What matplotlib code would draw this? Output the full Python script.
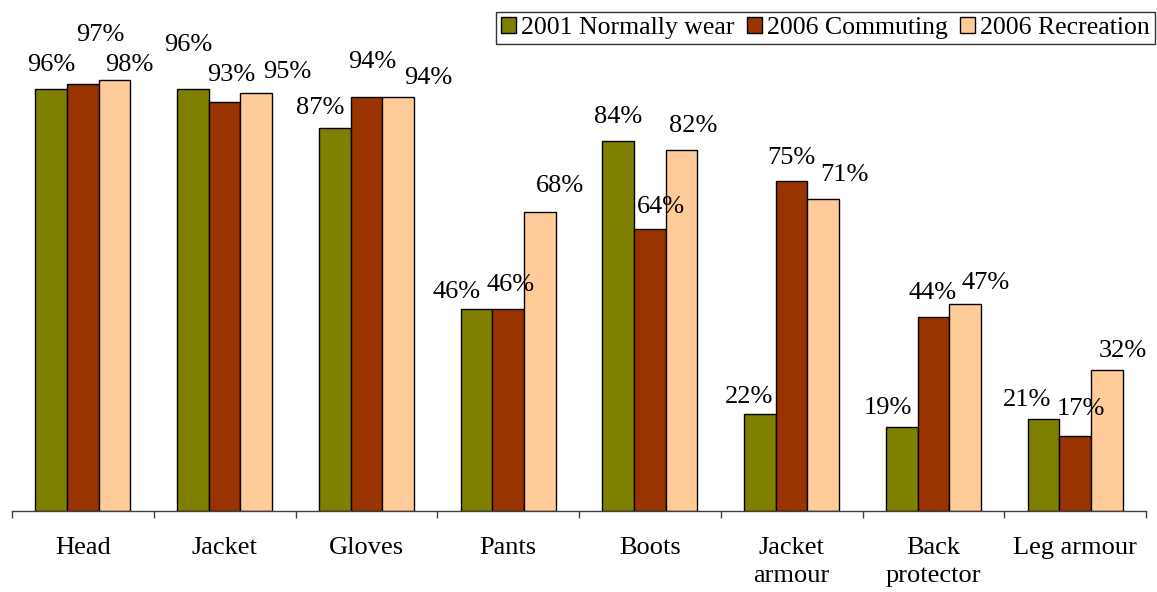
import numpy as np
import matplotlib
matplotlib.use("Agg")
from matplotlib import pyplot as plt

plt.rcParams['font.family'] = ['Liberation Serif', 'DejaVu Serif']
plt.rcParams['font.size'] = 19

parts = ['Head', 'Jacket', 'Gloves', 'Pants', 'Boots',
         'Jacket\narmour', 'Back\nprotector', 'Leg armour']
series = ['2001 Normally wear', '2006 Commuting', '2006 Recreation']
wear_2001 = [96, 96, 87, 46, 84, 22, 19, 21]
commute_2006 = [97, 93, 94, 46, 64, 75, 44, 17]
recreation_2006 = [98, 95, 94, 68, 82, 71, 47, 32]

colors = ['#808000', '#993300', '#FFCC99']

# label nudges (pixels) so the percentages don't collide
nudge = [
    [(0, 24), (-5, 44), (-15, 20), (-20, 17), (0, 24), (-11, 17), (-14, 19), (-16, 19)],
    [(17, 49), (7, 27), (6, 35), (2, 24), (11, 22), (0, 23), (-1, 24), (6, 27)],
    [(15, 15), (31, 21), (30, 19), (20, 26), (12, 24), (21, 24), (21, 21), (16, 19)],
]

fig = plt.figure(figsize=(11.57, 5.92), dpi=100)
ax = fig.add_axes([12 / 1157, 81 / 592, 1134 / 1157, 440 / 592])

x = np.arange(len(parts)) + 0.5
w = 0.223
data = [wear_2001, commute_2006, recreation_2006]
for k, vals in enumerate(data):
    xs = x + (k - 1) * w
    ax.bar(xs, vals, width=w, color=colors[k], edgecolor='black',
           linewidth=1.0, label=series[k])
    for i, v in enumerate(vals):
        dx, dy = nudge[k][i]
        ax.annotate(f'{v}%', xy=(xs[i], v), xytext=(dx, dy),
                    textcoords='offset pixels', ha='center', va='center',
                    annotation_clip=False)

ax.set_xlim(0, len(parts))
ax.set_ylim(0, 100)

ax.set_xticks(np.arange(len(parts) + 1))
ax.set_xticklabels([])
ax.tick_params(axis='x', which='major', length=5, width=1, color='#404040',
               direction='out')
ax.set_xticks(x, minor=True)
ax.set_xticklabels(parts, minor=True, linespacing=1.32)
ax.tick_params(axis='x', which='minor', length=0, pad=19)
ax.set_yticks([])

for s in ['left', 'right', 'top']:
    ax.spines[s].set_visible(False)
ax.spines['bottom'].set_color('#404040')
ax.spines['bottom'].set_linewidth(1)

leg = fig.legend(loc='upper right', bbox_to_anchor=(1155 / 1157, 1 - 12 / 592),
                 ncol=3, frameon=True, fancybox=False, edgecolor='black',
                 fontsize=18.5, handlelength=0.6, handleheight=0.6,
                 handletextpad=0.2, columnspacing=0.45, borderpad=0.2,
                 borderaxespad=0)
leg.get_frame().set_linewidth(1)

fig.savefig('out.png', dpi=100)
